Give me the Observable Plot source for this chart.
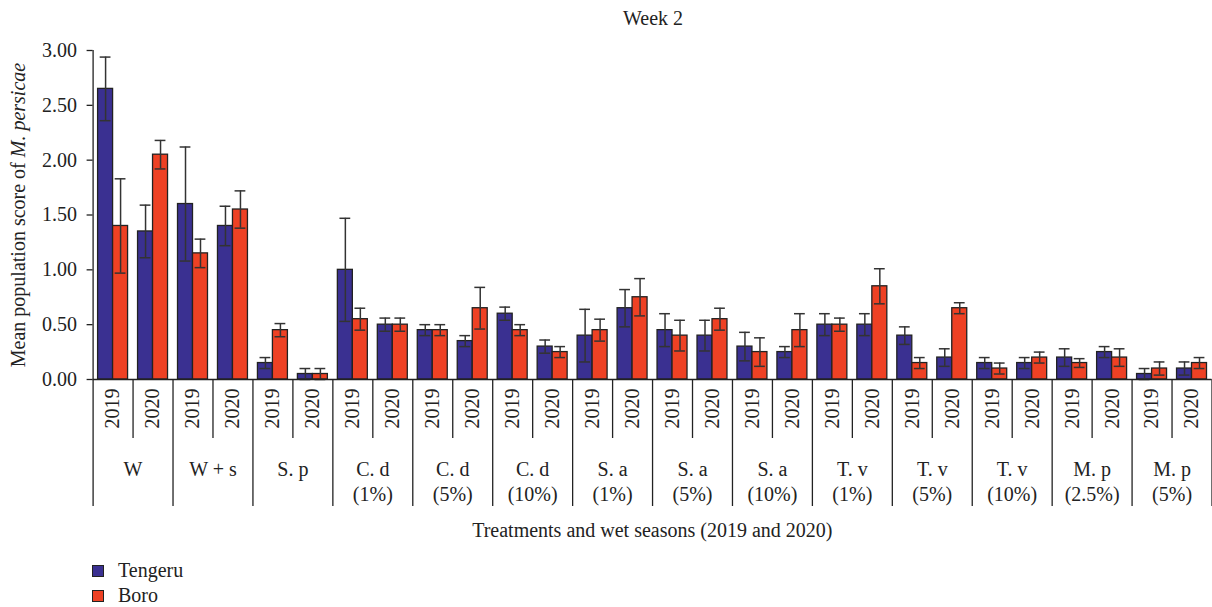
<!DOCTYPE html>
<html><head><meta charset="utf-8">
<script src="https://cdn.jsdelivr.net/npm/d3@7"></script>
<script src="https://cdn.jsdelivr.net/npm/@observablehq/plot@0.6"></script>
<style>
body{margin:0;background:#fff;font-family:"Liberation Serif",serif;color:#222}
#title{height:36px;line-height:36px;font-size:20px;padding-left:94px;width:1118px;text-align:center}
#legend{padding-top:2px;padding-left:92px;font-size:20px}
.row{height:25px;display:flex;align-items:center}
.sw{width:10px;height:10px;border:1px solid #222;margin-right:14px}
</style></head><body>
<div id="title">Week 2</div>
<div id="chart"></div>
<div id="legend"></div>
<script>
const chartTitle = "Week 2";
const xTitle = "Treatments and wet seasons (2019 and 2020)";
const yTitlePlain = "Mean population score of ";
const yTitleItalic = "M. persicae";
const groupNames = ["W","W + s","S. p","C. d","C. d","C. d","S. a","S. a","S. a","T. v","T. v","T. v","M. p","M. p"];
const groupDoses = ["","","","(1%)","(5%)","(10%)","(1%)","(5%)","(10%)","(1%)","(5%)","(10%)","(2.5%)","(5%)"];
const years = ["2019","2020"];
const cultivars = ["Tengeru","Boro"];
const colors = ["#3a3091","#ee4124"];
const yTicks = [0,0.5,1,1.5,2,2.5,3];
// one value per treatment-year slot (14 treatments x 2 years)
const tengeruMean = [2.65,1.35,1.60,1.40,0.15,0.05,1.00,0.50,0.45,0.35,0.60,0.30,0.40,0.65,0.45,0.40,0.30,0.25,0.50,0.50,0.40,0.20,0.15,0.15,0.20,0.25,0.05,0.10];
const tengeruErr  = [0.29,0.24,0.52,0.18,0.05,0.05,0.47,0.06,0.05,0.05,0.06,0.06,0.24,0.17,0.15,0.14,0.13,0.05,0.10,0.10,0.08,0.08,0.05,0.05,0.08,0.05,0.05,0.06];
const boroMean    = [1.40,2.05,1.15,1.55,0.45,0.05,0.55,0.50,0.45,0.65,0.45,0.25,0.45,0.75,0.40,0.55,0.25,0.45,0.50,0.85,0.15,0.65,0.10,0.20,0.15,0.20,0.10,0.15];
const boroErr     = [0.43,0.13,0.13,0.17,0.06,0.05,0.10,0.06,0.05,0.19,0.05,0.05,0.10,0.17,0.14,0.10,0.13,0.15,0.06,0.16,0.05,0.05,0.05,0.05,0.04,0.08,0.06,0.05];

const means = [tengeruMean, boroMean], errs = [tengeruErr, boroErr];
const rows = [];
groupNames.forEach((g, gi) => years.forEach((yr, yi) => {
  const slot = gi * 2 + yi;
  cultivars.forEach((c, k) => rows.push({slot, group: g, year: yr, cultivar: c, k, mean: means[k][slot], err: errs[k][slot]}));
}));

const nSlots = groupNames.length * years.length;
const pad = 0.125, bw = 0.375, cap = 0.135;
const bx1 = d => d.slot + pad + d.k * bw;
const bx2 = d => bx1(d) + bw;
const bxc = d => bx1(d) + bw / 2;

const slotCenters = d3.range(nSlots).map(i => i + 0.5);
const yearBounds = d3.range(groupNames.length).map(g => 2 * g + 1);
const groupBounds = d3.range(groupNames.length + 1).map(g => 2 * g);
const groupCenters = d3.range(groupNames.length).map(g => 2 * g + 1);

const plot = Plot.plot({
  width: 1212, height: 520,
  marginTop: 14, marginBottom: 177, marginLeft: 92.6, marginRight: 0.5,
  x: {domain: [0, nSlots]},
  y: {domain: [0, 3]},
  color: {domain: cultivars, range: colors},
  style: {fontFamily: "Liberation Serif", fontSize: "20px", color: "#222", background: "#fff"},
  marks: [
    Plot.rectY(rows, {x1: bx1, x2: bx2, y1: 0, y2: "mean", fill: "cultivar", stroke: "#222", strokeWidth: 1.3}),
    Plot.ruleX(rows, {x: bxc, y1: d => d.mean - d.err, y2: d => d.mean + d.err, stroke: "#333", strokeWidth: 1.5}),
    Plot.ruleY(rows, {y: d => d.mean + d.err, x1: d => bxc(d) - cap, x2: d => bxc(d) + cap, stroke: "#333", strokeWidth: 1.5}),
    Plot.ruleY(rows, {y: d => d.mean - d.err, x1: d => bxc(d) - cap, x2: d => bxc(d) + cap, stroke: "#333", strokeWidth: 1.5}),
    Plot.ruleX([0], {stroke: "#222", strokeWidth: 1.3}),
    Plot.ruleY([0], {stroke: "#222", strokeWidth: 1.3}),
    Plot.axisY({ticks: yTicks, tickFormat: d3.format(".2f"), tickSize: 6, tickPadding: 10, label: null, stroke: "#222", strokeWidth: 1.3}),
    Plot.axisX({ticks: yearBounds, tickSize: 59, fill: "none", label: null, stroke: "#222", strokeWidth: 1.3}),
    Plot.axisX({ticks: groupBounds, tickSize: 127, fill: "none", label: null, stroke: "#222", strokeWidth: 1.3}),
    Plot.axisX({ticks: slotCenters, tickSize: 0, tickPadding: 9, tickRotate: -90, label: null,
      tickFormat: d => years[Math.floor(d) % 2]}),
    Plot.axisX({ticks: groupCenters, tickSize: 0, tickPadding: 79, label: null, lineHeight: 1.25,
      tickFormat: d => { const g = (d - 1) / 2; return groupDoses[g] ? groupNames[g] + "\n" + groupDoses[g] : groupNames[g]; }})
  ]
});

const svg = d3.select(plot);
const yl = svg.append("text")
  .attr("transform", "translate(25,179) rotate(-90)")
  .attr("text-anchor", "middle").attr("fill", "#222").attr("font-size", 20);
yl.append("tspan").text(yTitlePlain);
yl.append("tspan").attr("font-style", "italic").text(yTitleItalic);
svg.append("text").attr("x", 652.3).attr("y", 501).attr("text-anchor", "middle")
  .attr("fill", "#222").attr("font-size", 20).text(xTitle);

document.getElementById("title").textContent = chartTitle;
document.getElementById("chart").appendChild(plot);
const legend = d3.select("#legend");
cultivars.forEach((c, i) => {
  const r = legend.append("div").attr("class", "row");
  r.append("div").attr("class", "sw").style("background", colors[i]);
  r.append("span").text(c);
});
</script>
</body></html>
